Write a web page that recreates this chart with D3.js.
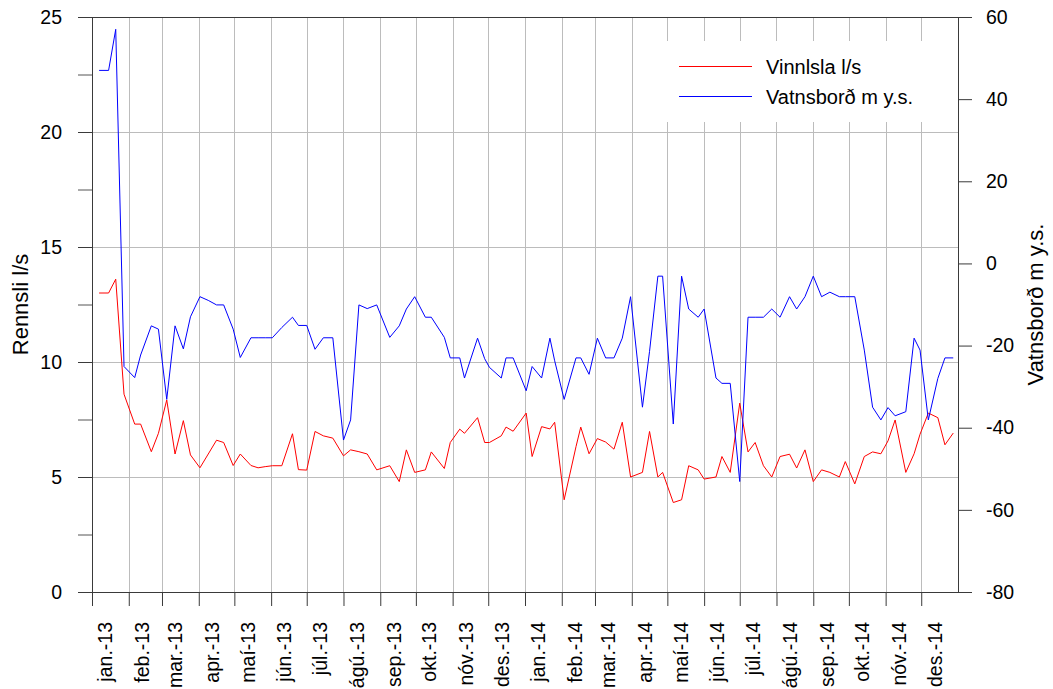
<!DOCTYPE html>
<html>
<head>
<meta charset="utf-8">
<script src="https://cdn.jsdelivr.net/npm/d3@7"></script>
<style>
  html, body { margin: 0; padding: 0; background: #fff; }
  svg { display: block; font-family: "Liberation Sans", Arial, sans-serif; }
</style>
</head>
<body>
<svg id="chart" width="1053" height="689"></svg>
<script>
// ---- data ----
const dates = ["2013-01-07","2013-01-15","2013-01-21","2013-01-28","2013-02-06","2013-02-11","2013-02-20","2013-02-26","2013-03-05","2013-03-12",
"2013-03-19","2013-03-25","2013-04-02","2013-04-09","2013-04-16","2013-04-22","2013-04-30","2013-05-06","2013-05-15","2013-05-21",
"2013-05-27","2013-06-02","2013-06-10","2013-06-19","2013-06-24","2013-07-01","2013-07-08","2013-07-15","2013-07-23","2013-08-01",
"2013-08-07","2013-08-14","2013-08-21","2013-08-29","2013-09-09","2013-09-17","2013-09-23","2013-09-30","2013-10-09","2013-10-14",
"2013-10-25","2013-10-30","2013-11-07","2013-11-11","2013-11-22","2013-11-28","2013-12-02","2013-12-12","2013-12-16","2013-12-22",
"2014-01-02","2014-01-07","2014-01-15","2014-01-22","2014-01-26","2014-02-03","2014-02-13","2014-02-17","2014-02-24","2014-03-03",
"2014-03-10","2014-03-17","2014-03-24","2014-03-31","2014-04-10","2014-04-16","2014-04-23","2014-04-27","2014-05-06","2014-05-13",
"2014-05-19","2014-05-27","2014-06-01","2014-06-11","2014-06-16","2014-06-23","2014-07-01","2014-07-08","2014-07-14","2014-07-21",
"2014-07-28","2014-08-04","2014-08-12","2014-08-18","2014-08-25","2014-09-01","2014-09-08","2014-09-15","2014-09-23","2014-09-28",
"2014-10-06","2014-10-14","2014-10-21","2014-10-28","2014-11-03","2014-11-09","2014-11-18","2014-11-25","2014-11-30","2014-12-07",
"2014-12-15","2014-12-21","2014-12-28"];

// Vinnlsla l/s (left axis)
const vinnsla = [13.0, 13.0, 13.6, 8.6, 7.3, 7.3, 6.1, 6.9, 8.35, 6.0,
7.45, 5.96, 5.4, 6.0, 6.6, 6.5, 5.5, 6.0, 5.5, 5.4,
5.45, 5.49, 5.49, 6.88, 5.32, 5.3, 6.98, 6.79, 6.69, 5.92,
6.18, 6.1, 6.0, 5.31, 5.49, 4.8, 6.18, 5.2, 5.31, 6.09,
5.37, 6.5, 7.08, 6.9, 7.58, 6.5, 6.5, 6.79, 7.17, 6.99,
7.78, 5.89, 7.19, 7.09, 7.38, 4.01, 6.32, 7.17, 6.01, 6.67,
6.52, 6.21, 7.38, 5.0, 5.2, 6.98, 5.0, 5.2, 3.89, 4.01,
5.49, 5.31, 4.91, 5.0, 5.89, 5.2, 8.21, 6.09, 6.5, 5.49,
5.0, 5.89, 5.99, 5.39, 6.18, 4.8, 5.31, 5.2, 5.0, 5.67,
4.7, 5.89, 6.09, 6.01, 6.57, 7.48, 5.2, 6.01, 6.86, 7.78,
7.58, 6.4, 6.91];

// Vatnsborð m y.s. (right axis)
const vatnsbord = [47, 47, 57, -25.1, -27.8, -22.3, -15.2, -16.0, -33.1, -15.2,
-20.8, -13.0, -8.1, -9.0, -10.1, -10.1, -16.0, -22.9, -18.1, -18.1,
-18.1, -18.1, -15.6, -13.1, -15.1, -15.1, -20.9, -18.1, -18.1, -43.0,
-38.1, -10.1, -11.0, -10.1, -18.0, -15.2, -11.1, -8.1, -13.1, -13.1,
-18.0, -23.0, -23.0, -27.9, -18.2, -23.2, -25.3, -27.9, -23.0, -23.0,
-31.0, -25.1, -27.9, -18.2, -23.7, -33.1, -23.0, -23.0, -27.0, -18.2,
-23.0, -23.0, -18.2, -8.1, -35.0, -21.4, -3.1, -3.1, -39.1, -3.1,
-11.1, -13.1, -11.1, -27.9, -29.2, -29.2, -53.1, -13.1, -13.1, -13.1,
-11.1, -13.1, -8.1, -11.1, -8.1, -3.1, -8.1, -7.0, -8.1, -8.1,
-8.1, -21.1, -35.0, -38.1, -35.1, -37.1, -36.1, -18.2, -21.1, -38.1,
-28.0, -23.0, -23.0];

const monthLabels = ["jan.-13","feb.-13","mar.-13","apr.-13","maí-13","jún.-13","júl.-13","ágú.-13","sep.-13","okt.-13","nóv.-13","des.-13",
"jan.-14","feb.-14","mar.-14","apr.-14","maí-14","jún.-14","júl.-14","ágú.-14","sep.-14","okt.-14","nóv.-14","des.-14"];

const leftTicks = [0, 5, 10, 15, 20, 25];
const leftMinorTicks = [2.5, 7.5, 12.5, 17.5, 22.5];
const rightTicks = [-80, -60, -40, -20, 0, 20, 40, 60];
const seriesNames = ["Vinnlsla l/s", "Vatnsborð m y.s."];
const axisTitles = ["Rennsli l/s", "Vatnsborð m y.s."];

// ---- layout ----
const svg = d3.select("#chart");
const L = 92, R = 958, T = 17, B = 592;
const parse = d3.utcParse("%Y-%m-%d");
const start = new Date(Date.UTC(2013, 0, 1)), end = new Date(Date.UTC(2015, 0, 1));
const x = d3.scaleUtc().domain([start, end]).range([L, R]);
const yL = d3.scaleLinear().domain([0, 25]).range([B, T]);
const yR = d3.scaleLinear().domain([-80, 60]).range([B, T]);
const months = d3.utcMonths(start, end);

const fontSize = 19.5;
const axisColor = "#3a3a3a";
const gridColor = "#bcbcbc";

// gridlines
const grid = svg.append("g");
grid.selectAll("line.v").data(months.slice(1)).join("line")
  .attr("x1", d => Math.round(x(d)) + 0.5).attr("x2", d => Math.round(x(d)) + 0.5)
  .attr("y1", T).attr("y2", B)
  .attr("stroke", gridColor).attr("stroke-width", 1);
grid.selectAll("line.h").data([5, 10, 15, 20]).join("line")
  .attr("x1", L).attr("x2", R)
  .attr("y1", d => Math.round(yL(d)) + 0.5).attr("y2", d => Math.round(yL(d)) + 0.5)
  .attr("stroke", gridColor).attr("stroke-width", 1);

// legend background (covers gridlines)
const legend = svg.append("g");
legend.append("rect").attr("x", 646).attr("y", 41).attr("width", 308).attr("height", 81).attr("fill", "#fff");

// series lines
const rows = dates.map((d, i) => ({ date: parse(d), v: vinnsla[i], w: vatnsbord[i] }));
svg.append("path").datum(rows)
  .attr("fill", "none").attr("stroke", "#ff0000").attr("stroke-width", 1)
  .attr("d", d3.line().x(d => x(d.date)).y(d => yL(d.v)));
svg.append("path").datum(rows)
  .attr("fill", "none").attr("stroke", "#0000ff").attr("stroke-width", 1)
  .attr("d", d3.line().x(d => x(d.date)).y(d => yR(d.w)));

// legend items
const legY = [66.5, 96.5];
const legColors = ["#ff0000", "#0000ff"];
seriesNames.forEach((name, i) => {
  legend.append("line").attr("x1", 679).attr("x2", 752).attr("y1", legY[i]).attr("y2", legY[i])
    .attr("stroke", legColors[i]).attr("stroke-width", 1);
  legend.append("text").attr("x", 766).attr("y", legY[i]).attr("dy", "0.35em")
    .attr("font-size", 20).attr("fill", "#000").text(name);
});

// top border
svg.append("line").attr("x1", L).attr("x2", R + 0.5).attr("y1", T + 0.5).attr("y2", T + 0.5)
  .attr("stroke", axisColor).attr("stroke-width", 1);

function styleAxis(g) {
  g.select(".domain").attr("stroke", axisColor);
  g.selectAll(".tick line").attr("stroke", axisColor);
  g.selectAll(".tick text").attr("fill", "#000").attr("font-size", fontSize)
    .attr("font-family", "\"Liberation Sans\", Arial, sans-serif");
}

// left axis
svg.append("g").attr("transform", `translate(${L},0)`)
  .call(d3.axisLeft(yL).tickValues(leftMinorTicks).tickSize(14).tickFormat(""))
  .call(g => g.select(".domain").remove())
  .call(g => g.selectAll(".tick line").attr("stroke", "#555"));
svg.append("g").attr("transform", `translate(${L},0)`)
  .call(d3.axisLeft(yL).tickValues(leftTicks).tickSize(14).tickSizeOuter(0).tickPadding(16).tickFormat(d => String(d)))
  .call(styleAxis);

// right axis
svg.append("g").attr("transform", `translate(${R},0)`)
  .call(d3.axisRight(yR).tickValues(rightTicks).tickSize(14).tickSizeOuter(0).tickPadding(14).tickFormat(d => String(d)))
  .call(styleAxis);

// bottom axis
svg.append("g").attr("transform", `translate(0,${B})`)
  .call(d3.axisBottom(x).tickValues(months).tickSize(14).tickSizeOuter(0).tickFormat(""))
  .call(styleAxis);

// month labels (rotated)
svg.append("g").selectAll("text").data(months).join("text")
  .attr("transform", (d, i) => `translate(${x(d) + 13.5},622) rotate(-90)`)
  .attr("text-anchor", "end").attr("dy", "0.35em")
  .attr("font-size", fontSize).attr("fill", "#000")
  .text((d, i) => monthLabels[i]);

// axis titles
svg.append("text").attr("transform", "translate(28,304.5) rotate(-90)")
  .attr("text-anchor", "middle").attr("font-size", 22).attr("fill", "#000").text(axisTitles[0]);
svg.append("text").attr("transform", "translate(1043,304.5) rotate(-90)")
  .attr("text-anchor", "middle").attr("font-size", 22).attr("fill", "#000").text(axisTitles[1]);
</script>
</body>
</html>
